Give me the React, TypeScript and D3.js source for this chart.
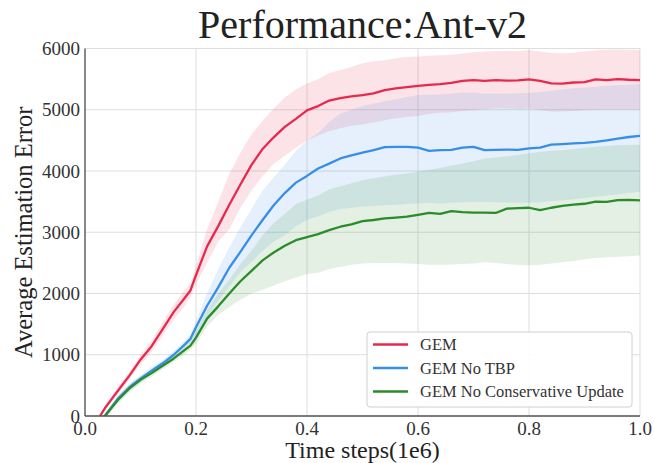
import React from "react";
import * as d3 from "d3";

const steps = [0.027, 0.036, 0.05, 0.06, 0.08, 0.10, 0.12, 0.14, 0.16, 0.18, 0.19, 0.20, 0.22, 0.24, 0.26, 0.28, 0.30, 0.32, 0.34, 0.36, 0.38, 0.40, 0.42, 0.44, 0.46, 0.48, 0.50, 0.52, 0.54, 0.56, 0.58, 0.60, 0.62, 0.64, 0.66, 0.68, 0.70, 0.72, 0.74, 0.76, 0.78, 0.80, 0.82, 0.84, 0.86, 0.88, 0.90, 0.92, 0.94, 0.96, 0.98, 1.00];

const gemMean = [0, 130, 300, 420, 660, 920, 1140, 1420, 1700, 1930, 2050, 2300, 2770, 3100, 3450, 3780, 4100, 4360, 4550, 4720, 4850, 4990, 5060, 5150, 5190, 5220, 5240, 5268, 5320, 5350, 5370, 5390, 5405, 5420, 5440, 5470, 5485, 5470, 5485, 5475, 5480, 5497, 5470, 5430, 5425, 5445, 5450, 5495, 5485, 5500, 5490, 5485];
const gemUpper = [20, 170, 350, 480, 720, 1000, 1230, 1530, 1820, 2060, 2150, 2450, 3050, 3500, 3950, 4300, 4600, 4820, 5020, 5200, 5330, 5430, 5500, 5600, 5650, 5700, 5760, 5790, 5810, 5840, 5860, 5870, 5880, 5890, 5900, 5920, 5940, 5950, 5960, 5965, 5960, 5975, 5950, 5930, 5920, 5930, 5950, 5970, 5980, 5985, 5980, 5975];
const gemLower = [0, 90, 250, 360, 600, 840, 1050, 1310, 1580, 1800, 1950, 2150, 2500, 2850, 3050, 3400, 3680, 3920, 4120, 4250, 4380, 4500, 4580, 4650, 4700, 4740, 4760, 4790, 4830, 4860, 4880, 4900, 4930, 4950, 4960, 4980, 4990, 5010, 5020, 5020, 5010, 5020, 4990, 4970, 4970, 4980, 4990, 5000, 5000, 5000, 5000, 5000];

const noTbpMean = [-90, 0, 170, 290, 470, 610, 740, 860, 1000, 1170, 1260, 1450, 1800, 2100, 2420, 2680, 2950, 3200, 3440, 3640, 3810, 3920, 4040, 4120, 4205, 4255, 4300, 4340, 4390, 4395, 4395, 4380, 4330, 4340, 4345, 4380, 4395, 4340, 4345, 4350, 4345, 4370, 4380, 4430, 4440, 4450, 4460, 4475, 4500, 4530, 4555, 4575];
const noTbpUpper = [-60, 50, 220, 350, 530, 670, 800, 920, 1060, 1240, 1330, 1550, 2000, 2400, 2750, 3080, 3380, 3680, 3900, 4100, 4330, 4500, 4620, 4800, 4940, 5000, 5060, 5100, 5140, 5170, 5210, 5240, 5245, 5250, 5260, 5280, 5280, 5260, 5260, 5265, 5270, 5275, 5290, 5310, 5330, 5350, 5360, 5375, 5390, 5400, 5410, 5420];
const noTbpLower = [-120, -40, 120, 230, 410, 550, 680, 800, 940, 1100, 1200, 1320, 1620, 1880, 2110, 2350, 2520, 2700, 2850, 2950, 3100, 3200, 3260, 3330, 3380, 3400, 3420, 3430, 3440, 3450, 3460, 3470, 3480, 3470, 3480, 3490, 3500, 3500, 3490, 3485, 3480, 3480, 3490, 3510, 3520, 3540, 3560, 3580, 3600, 3620, 3640, 3660];

const noCuMean = [-90, 0, 160, 270, 450, 590, 700, 820, 940, 1080, 1150, 1280, 1590, 1790, 2000, 2200, 2370, 2540, 2670, 2780, 2870, 2920, 2970, 3035, 3090, 3130, 3180, 3200, 3225, 3240, 3254, 3285, 3315, 3300, 3345, 3330, 3320, 3320, 3315, 3385, 3395, 3400, 3360, 3400, 3430, 3450, 3465, 3500, 3495, 3525, 3530, 3520];
const noCuUpper = [-60, 50, 210, 330, 510, 650, 760, 880, 1000, 1150, 1230, 1380, 1730, 2000, 2230, 2480, 2700, 2950, 3150, 3300, 3460, 3530, 3600, 3700, 3750, 3800, 3850, 3880, 3910, 3940, 3960, 3990, 4020, 4050, 4090, 4120, 4160, 4205, 4220, 4240, 4260, 4290, 4310, 4330, 4340, 4360, 4380, 4395, 4410, 4420, 4425, 4430];
const noCuLower = [-120, -40, 110, 210, 390, 530, 640, 760, 880, 1010, 1080, 1180, 1460, 1650, 1780, 1900, 2000, 2060, 2130, 2200, 2260, 2320, 2340, 2400, 2437, 2470, 2490, 2500, 2500, 2500, 2490, 2480, 2470, 2470, 2475, 2480, 2490, 2510, 2500, 2480, 2470, 2460, 2470, 2490, 2510, 2530, 2560, 2580, 2590, 2600, 2610, 2620];

const seriesNames = ["GEM", "GEM No TBP", "GEM No Conservative Update"];
const seriesColors = ["#e8294e", "#378ee8", "#2a8c2a"];
const xTicks = [0, 0.2, 0.4, 0.6, 0.8, 1.0];
const yTicks = [0, 1000, 2000, 3000, 4000, 5000, 6000];

const W = 654;
const H = 463;
const M = { left: 85, right: 640, top: 48.5, bottom: 416 };
const FONT = "'Liberation Serif', 'Times New Roman', serif";

export default function App() {
  const x = d3.scaleLinear().domain([0, 1]).range([M.left, M.right]);
  const y = d3.scaleLinear().domain([0, 6000]).range([M.bottom, M.top]);

  const series = [
    { name: seriesNames[0], color: seriesColors[0], mean: gemMean, lo: gemLower, hi: gemUpper },
    { name: seriesNames[1], color: seriesColors[1], mean: noTbpMean, lo: noTbpLower, hi: noTbpUpper },
    { name: seriesNames[2], color: seriesColors[2], mean: noCuMean, lo: noCuLower, hi: noCuUpper },
  ];

  const line = d3
    .line<number>()
    .x((_, i) => x(steps[i]))
    .y((d) => y(d));

  const areaFor = (lo: number[], hi: number[]) =>
    d3
      .area<number>()
      .x((_, i) => x(steps[i]))
      .y0((_, i) => y(lo[i]))
      .y1((_, i) => y(hi[i]))(steps) || "";

  const legend = { x: 367, y: 332, w: 265, h: 75 };

  return (
    <svg
      width={W}
      height={H}
      style={{ position: "absolute", left: 0, top: 0, background: "#fff" }}
      fontFamily={FONT}
    >
      <defs>
        <clipPath id="plotclip">
          <rect x={M.left} y={M.top} width={M.right - M.left} height={M.bottom - M.top} />
        </clipPath>
      </defs>
      {xTicks.map((t) => (
        <line key={"gx" + t} x1={x(t)} x2={x(t)} y1={M.top} y2={M.bottom} stroke="#dedede" strokeWidth={1} />
      ))}
      {yTicks.map((t) => (
        <line key={"gy" + t} x1={M.left} x2={M.right} y1={y(t)} y2={y(t)} stroke="#dedede" strokeWidth={1} />
      ))}
      <g clipPath="url(#plotclip)">
        {series.map((s) => (
          <path key={"b" + s.name} d={areaFor(s.lo, s.hi)} fill={s.color} fillOpacity={0.13} stroke="none" />
        ))}
        {series.map((s) => (
          <path
            key={"l" + s.name}
            d={line(s.mean) || ""}
            fill="none"
            stroke={s.color}
            strokeWidth={2.3}
            strokeLinejoin="round"
          />
        ))}
      </g>
      <line x1={M.left} x2={M.left} y1={M.top} y2={M.bottom} stroke="#666" strokeWidth={1.5} />
      <line x1={M.left} x2={M.right} y1={M.bottom} y2={M.bottom} stroke="#555" strokeWidth={1.5} />
      {yTicks.map((t) => (
        <text key={"yt" + t} x={M.left - 5} y={y(t)} dy="0.35em" textAnchor="end" fontSize={19} fill="#333">
          {t}
        </text>
      ))}
      {xTicks.map((t) => (
        <text key={"xt" + t} x={x(t)} y={435} textAnchor="middle" fontSize={19} fill="#333">
          {t.toFixed(1)}
        </text>
      ))}
      <text x={(M.left + M.right) / 2} y={38} textAnchor="middle" fontSize={40} fill="#222">
        Performance:Ant-v2
      </text>
      <text x={(M.left + M.right) / 2} y={458} textAnchor="middle" fontSize={24} fill="#222">
        Time steps(1e6)
      </text>
      <text
        transform={`translate(32, ${(M.top + M.bottom) / 2}) rotate(-90)`}
        textAnchor="middle"
        fontSize={24.5}
        fill="#222"
      >
        Average Estimation Error
      </text>
      <rect
        x={legend.x}
        y={legend.y}
        width={legend.w}
        height={legend.h}
        rx={3}
        fill="#fff"
        fillOpacity={0.9}
        stroke="#d0d0d0"
        strokeWidth={1}
      />
      {series.map((s, i) => (
        <g key={"lg" + s.name}>
          <line
            x1={legend.x + 6}
            x2={legend.x + 41}
            y1={legend.y + 12.5 + i * 23.5}
            y2={legend.y + 12.5 + i * 23.5}
            stroke={s.color}
            strokeWidth={2.3}
          />
          <text x={legend.x + 53} y={legend.y + 12.5 + i * 23.5} dy="0.35em" fontSize={16.5} fill="#333">
            {s.name}
          </text>
        </g>
      ))}
    </svg>
  );
}
